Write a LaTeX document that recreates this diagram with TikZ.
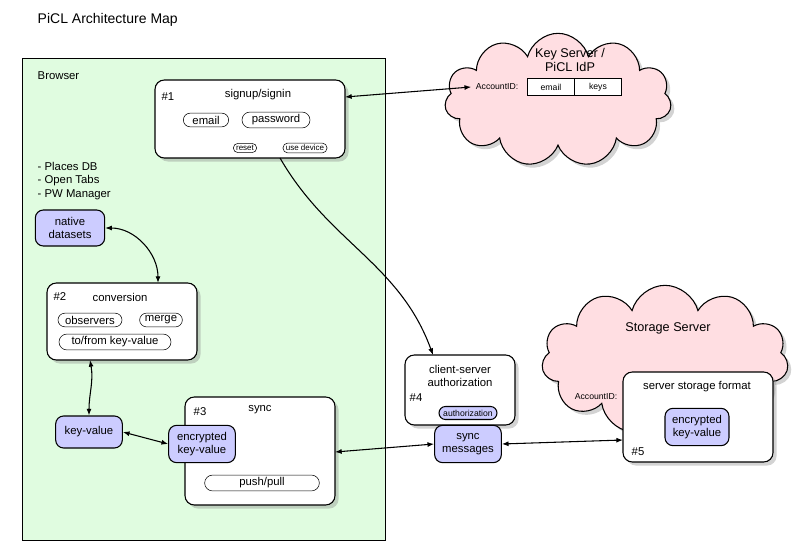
\documentclass[tikz,border=0pt]{standalone}
\usepackage{fontspec}
\setmainfont{Liberation Sans}
\usetikzlibrary{shapes.symbols,shapes.misc,shadows,arrows.meta}
\definecolor{browserfill}{RGB}{224,252,224}
\definecolor{cloudfill}{RGB}{255,222,226}
\definecolor{datafill}{RGB}{204,204,255}
\tikzset{
  panel/.style={draw, rounded corners=7pt, fill=white, thick, drop shadow={opacity=0.35}},
  pill/.style={draw, rounded rectangle, fill=white, font=\fontsize{8.5}{10}\selectfont, inner sep=2pt},
  tinypill/.style={draw, rounded rectangle, fill=white, font=\fontsize{6}{7}\selectfont, inner sep=1.5pt},
  datum/.style={draw, rounded corners=6pt, fill=datafill, thick, align=center, font=\fontsize{8.5}{10}\selectfont, inner sep=2pt},
  server/.style={cloud, cloud puffs=11, draw, thick, fill=cloudfill, drop shadow={opacity=0.35}},
  lbl/.style={font=\fontsize{8.5}{10}\selectfont},
  link/.style={thick, {Latex[length=5pt]}-{Latex[length=5pt]}}
}
\begin{document}
\begin{tikzpicture}[x=0.75pt, y=-0.75pt]
\useasboundingbox (0,0) rectangle (800,556);
\node[anchor=west, font=\fontsize{10.5}{12}\selectfont] (title) at (33,20) {PiCL Architecture Map};

%browser area
\draw[fill=browserfill] (22,58) rectangle (385,540);
\node[lbl, anchor=west] (browser) at (33,76) {Browser};

%clouds
\node[server, minimum width=170pt, minimum height=100pt] (keycloud) at (558,100) {};
\node[server, minimum width=185pt, minimum height=112pt] (storecloud) at (665,360) {};
\node[align=center, font=\fontsize{9.5}{11}\selectfont] (keytext) at (570,60) {Key Server /\\PiCL IdP};
\node[font=\fontsize{6.5}{7}\selectfont, anchor=east] (acct1) at (523,87) {AccountID:};
\node[draw, fill=white, minimum width=35pt, minimum height=13pt, font=\fontsize{6.5}{7}\selectfont] (email) at (551,87) {email};
\node[draw, fill=white, minimum width=35pt, minimum height=13pt, font=\fontsize{6.5}{7}\selectfont] (keys) at (598,87) {keys};
\node[font=\fontsize{9.5}{11}\selectfont] (storetext) at (668,328) {Storage Server};
\node[font=\fontsize{6.5}{7}\selectfont] (acct2) at (596,397) {AccountID:};

%#1 signup
\draw[panel] (155,80) rectangle (345,158);
\coordinate (b1e) at (345,97);
\coordinate (b1s) at (280,158);
\node[lbl] (n1) at (168,97) {\#1};
\node[lbl] (signup) at (258,95) {signup/signin};
\node[pill, minimum width=38pt] (pemail) at (206,120) {email};
\node[pill, minimum width=55pt] (ppass) at (276,120) {password};
\node[tinypill] (reset) at (245,148) {reset};
\node[tinypill] (usedev) at (305,148) {use device};

%datasets
\node[lbl, anchor=west, align=left] (list) at (33,181) {- Places DB\\- Open Tabs\\- PW Manager};
\node[datum, minimum width=52pt, minimum height=27pt] (native) at (70,228) {native\\datasets};

%#2 conversion
\draw[panel] (47,283) rectangle (197,360);
\coordinate (b2n) at (158,283);
\coordinate (b2s) at (90,360);
\node[lbl] (n2) at (60,297) {\#2};
\node[lbl] (conv) at (120,297) {conversion};
\node[pill, minimum width=52pt] (obs) at (90,320) {observers};
\node[pill, minimum width=36pt] (merge) at (161,320) {merge};
\node[pill, minimum width=88pt] (tofrom) at (115,342) {to/from key-value};

\node[datum, minimum width=50pt, minimum height=24pt] (kv) at (89,432) {key-value};

%#3 sync
\draw[panel] (185,397) rectangle (335,505);
\coordinate (b3e) at (335,452);
\node[lbl] (n3) at (200,412) {\#3};
\node[lbl] (synct) at (260,410) {sync};
\node[datum, minimum width=50pt, minimum height=28pt] (enc) at (202,444) {encrypted\\key-value};
\node[pill, minimum width=90pt] (push) at (262,483) {push/pull};

%#4 authorization
\draw[panel] (405,355) rectangle (515,425);
\coordinate (b4n) at (433,355);
\node[lbl, align=center] (csa) at (460,376) {client-server\\authorization};
\node[lbl] (n4) at (416,398) {\#4};
\node[draw, thick, rounded rectangle, fill=datafill, font=\fontsize{6.5}{7}\selectfont, inner sep=2.5pt] (auth) at (468,413) {authorization};
\node[datum, minimum width=50pt, minimum height=28pt] (msgs) at (468,444) {sync\\messages};

%#5 storage
\draw[panel] (623,372) rectangle (773,462);
\coordinate (b5w) at (623,440);
\node[lbl] (sfmt) at (697,387) {server storage format};
\node[datum, minimum width=48pt, minimum height=28pt] (enc2) at (697,427) {encrypted\\key-value};
\node[lbl] (n5) at (638,452) {\#5};

%links
\draw[link] (b1e) -- (acct1.west);
\draw[thick, -{Latex[length=5pt]}] (b1s) to[out=-60, in=110] (b4n);
\draw[link] (native.east) to[out=0, in=90] (b2n);
\draw[link] (b2s) to[out=-80, in=90] (kv.north);
\draw[link] (kv.east) -- (enc.west);
\draw[link] (b3e) -- (msgs.west);
\draw[link] (msgs.east) -- (b5w);
\end{tikzpicture}
\end{document}
